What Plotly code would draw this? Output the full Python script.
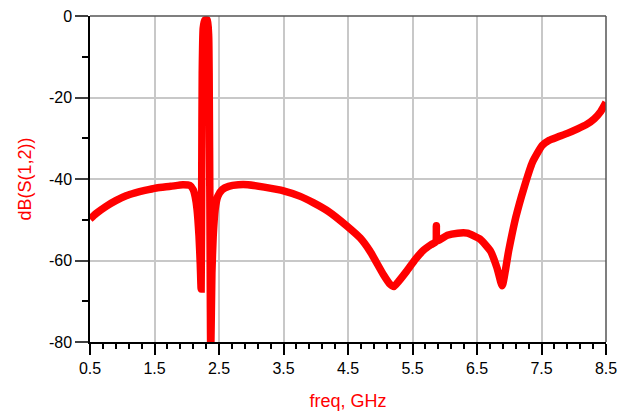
import plotly.graph_objects as go

# S12 response (GHz, dB)
freq = [0.5, 0.6, 0.75, 0.9, 1.06, 1.2, 1.35, 1.53, 1.75, 1.94, 2.05, 2.1, 2.13,
        2.16, 2.19, 2.21, 2.223, 2.232, 2.24, 2.255, 2.28, 2.32, 2.34, 2.347,
        2.36, 2.372, 2.39, 2.41, 2.44, 2.48, 2.55, 2.65, 2.8, 2.95, 3.2, 3.5,
        3.75, 3.96, 4.2, 4.48, 4.69, 4.84, 5.05, 5.15, 5.21, 5.28, 5.41, 5.55,
        5.67, 5.78, 5.86, 5.87, 5.88, 6.04, 6.2, 6.35, 6.55, 6.71, 6.81, 6.89,
        6.99, 7.1, 7.23, 7.36, 7.51, 7.62, 7.75, 7.9, 8.06, 8.2, 8.32, 8.42, 8.5]
s12_db = [-49.8, -48.4, -46.7, -45.3, -44.1, -43.4, -42.8, -42.2, -41.8, -41.4,
          -41.6, -42.6, -44.3, -47.5, -54.0, -61.0, -67.0, -40.0, -14.0, -3.0,
          -1.0, -1.0, -5.0, -14.0, -50.0, -83.0, -63.0, -54.0, -47.5, -44.3,
          -42.6, -41.8, -41.4, -41.4, -42.0, -42.9, -44.2, -45.8, -48.0, -51.5,
          -54.5, -57.7, -63.5, -65.8, -66.4, -65.2, -62.6, -59.6, -57.5, -56.2,
          -55.4, -51.5, -55.2, -53.8, -53.3, -53.3, -54.8, -57.7, -61.8, -66.2,
          -57.7, -49.5, -42.1, -35.9, -31.8, -30.5, -29.7, -28.8, -27.7, -26.6,
          -25.2, -23.4, -21.2]

x_ticks = [0.5, 1.5, 2.5, 3.5, 4.5, 5.5, 6.5, 7.5, 8.5]
y_ticks = [0, -20, -40, -60, -80]

fig = go.Figure()
fig.add_trace(go.Scatter(x=freq, y=s12_db, mode="lines",
                         line=dict(color="#ff0000", width=7.5,
                                   shape="spline", smoothing=0.5)))

fnt = dict(family="Liberation Sans, Arial, sans-serif", size=16, color="black")
title_fnt = dict(family=fnt["family"], size=18, color="#ff0000")

fig.update_xaxes(range=[0.5, 8.5], tickvals=x_ticks, ticktext=[str(v) for v in x_ticks],
                 ticks="outside", ticklen=11, tickwidth=1.5, tickcolor="black",
                 minor=dict(dtick=0.2, tick0=0.5, ticks="outside", ticklen=5,
                            tickwidth=1.5, tickcolor="black", showgrid=False),
                 showline=True, linecolor="black", linewidth=1.5,
                 showgrid=True, gridcolor="#c8c8c8", gridwidth=1.5,
                 zeroline=False, tickfont=fnt, automargin=False,
                 ticklabeloverflow="allow",
                 title=dict(text="freq, GHz", standoff=18, font=title_fnt))
fig.update_yaxes(range=[-80, 0], tickvals=y_ticks, ticktext=[str(v) for v in y_ticks],
                 ticks="outside", ticklen=13, tickwidth=1.5, tickcolor="#404040",
                 minor=dict(dtick=10, ticks="outside", ticklen=6, tickwidth=1.5,
                            tickcolor="black", showgrid=False),
                 showline=True, linecolor="black", linewidth=1.5,
                 showgrid=True, gridcolor="#c8c8c8", gridwidth=1.5,
                 zeroline=False, tickfont=fnt, automargin=False,
                 ticklabeloverflow="allow",
                 title=dict(text="dB(S(1,2))", standoff=13, font=title_fnt))

# top and right frame lines
fig.add_shape(type="line", xref="paper", yref="paper", x0=0, x1=1, y0=1, y1=1,
              line=dict(color="#555555", width=1.5))
fig.add_shape(type="line", xref="paper", yref="paper", x0=1, x1=1, y0=0, y1=1,
              line=dict(color="#555555", width=1.5))

# page body adds ~8px offset, so the figure is sized to the visible area
fig.update_layout(width=622, height=404, margin=dict(l=82, r=24, t=8, b=70),
                  plot_bgcolor="white", paper_bgcolor="white", showlegend=False)

fig.write_html("out.html")
